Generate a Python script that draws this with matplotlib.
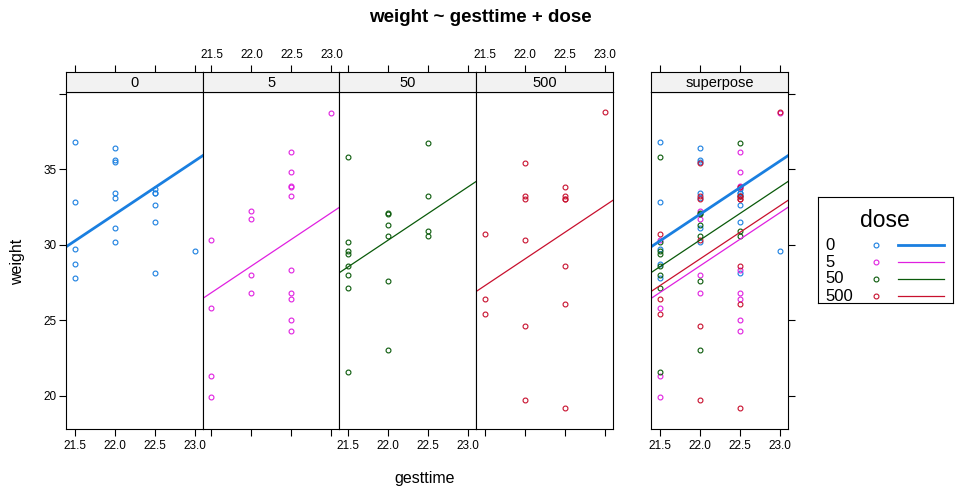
import numpy as np
import matplotlib
matplotlib.use("Agg")
import matplotlib.pyplot as plt

plt.rcParams['font.family'] = ['Liberation Sans', 'DejaVu Sans']

doses = ["0", "5", "50", "500"]
colors = ["#1a7fe0", "#e020e0", "#0a5a0a", "#c8102e"]
line_widths = [2.0, 0.9, 0.9, 0.9]

# gesttime / weight per dose group
time_0 = [21.5, 21.5, 21.5, 21.5, 21.5, 22.0, 22.0, 22.0, 22.0, 22.0, 22.0, 22.0,
          22.5, 22.5, 22.5, 22.5, 22.5, 22.5, 23.0]
weight_0 = [36.8, 32.8, 29.7, 28.7, 27.8, 36.4, 35.6, 35.5, 33.4, 33.1, 31.1, 30.2,
            33.7, 33.4, 33.4, 32.6, 31.5, 28.1, 29.6]

time_5 = [21.5, 21.5, 21.5, 21.5, 22.0, 22.0, 22.0, 22.0,
          22.5, 22.5, 22.5, 22.5, 22.5, 22.5, 22.5, 22.5, 22.5, 22.5, 23.0]
weight_5 = [30.3, 25.8, 21.3, 19.9, 32.2, 31.7, 28.0, 26.8,
            36.1, 34.8, 33.9, 33.8, 33.2, 28.3, 26.8, 26.4, 25.0, 24.3, 38.7]

time_50 = [21.5, 21.5, 21.5, 21.5, 21.5, 21.5, 21.5, 21.5,
           22.0, 22.0, 22.0, 22.0, 22.0, 22.0, 22.5, 22.5, 22.5, 22.5]
weight_50 = [35.8, 30.2, 29.6, 29.4, 28.6, 28.0, 27.1, 21.6,
             32.1, 32.0, 31.3, 30.6, 27.6, 23.0, 36.7, 33.2, 30.9, 30.6]

time_500 = [21.5, 21.5, 21.5, 22.0, 22.0, 22.0, 22.0, 22.0, 22.0,
            22.5, 22.5, 22.5, 22.5, 22.5, 22.5, 22.5, 23.0]
weight_500 = [30.7, 26.4, 25.4, 35.4, 33.2, 33.0, 30.3, 24.6, 19.7,
              33.8, 33.2, 33.0, 33.0, 28.6, 26.1, 19.2, 38.8]

times = [time_0, time_5, time_50, time_500]
weights = [weight_0, weight_5, weight_50, weight_500]

# ancova fit: weight ~ gesttime + dose (common slope, group intercepts)
X_rows, y_all = [], []
for k in range(4):
    for t, w in zip(times[k], weights[k]):
        row = [0.0] * 5
        row[k] = 1.0
        row[4] = t
        X_rows.append(row)
        y_all.append(w)
coef = np.linalg.lstsq(np.array(X_rows), np.array(y_all), rcond=None)[0]
intercepts = coef[:4]
slope = coef[4]

xticks = [21.5, 22.0, 22.5, 23.0]
xtick_labels = ["21.5", "22.0", "22.5", "23.0"]
yticks = [20, 25, 30, 35, 40]
ytick_labels = ["20", "25", "30", "35", ""]

xlim = (21.39, 23.10)
ylim = (17.8, 40.1)

W, H = 960, 500
fig = plt.figure(figsize=(9.6, 5), dpi=100)
MS = 3.5


def box(x0, y0, x1, y1):
    return [x0 / W, 1 - y1 / H, (x1 - x0) / W, (y1 - y0) / H]


def make_panel(x0, x1, label, bottom_labels, top_labels, left_axis, right_axis):
    ax = fig.add_axes(box(x0, 92, x1, 429))
    ax.set_xlim(xlim)
    ax.set_ylim(ylim)
    ax.set_xticks(xticks)
    ax.set_xticklabels(xtick_labels if bottom_labels else [""] * 4, fontsize=8.5)
    ax.tick_params(axis='x', direction='out', length=5, width=0.8, pad=3)
    ax.set_yticks(yticks)
    ax.set_yticklabels(ytick_labels, fontsize=8.5)
    ax.tick_params(axis='y', direction='out', length=5, width=0.8, pad=2,
                   left=left_axis, labelleft=left_axis,
                   right=right_axis, labelright=False)
    for s in ax.spines.values():
        s.set_linewidth(0.8)

    st = fig.add_axes(box(x0, 72, x1, 92))
    st.set_xlim(xlim)
    st.set_facecolor("#f2f2f2")
    st.set_yticks([])
    st.xaxis.tick_top()
    st.set_xticks(xticks)
    st.set_xticklabels(xtick_labels if top_labels else [""] * 4, fontsize=8.5)
    st.tick_params(axis='x', direction='out', length=5, width=0.8, pad=3)
    st.text(0.5, 0.45, label, transform=st.transAxes, ha='center', va='center',
            fontsize=10.5)
    for s in st.spines.values():
        s.set_linewidth(0.8)
    return ax


panel_edges = [66, 202.7, 339.4, 476.1, 612.8]
xs_line = np.array(xlim)
for k in range(4):
    ax = make_panel(panel_edges[k], panel_edges[k + 1], doses[k],
                    bottom_labels=(k % 2 == 0), top_labels=(k % 2 == 1),
                    left_axis=(k == 0), right_axis=False)
    ax.plot(times[k], weights[k], linestyle='none', marker='o', markersize=MS,
            markerfacecolor='none', markeredgecolor=colors[k], markeredgewidth=0.8)
    ax.plot(xs_line, intercepts[k] + slope * xs_line, color=colors[k],
            linewidth=line_widths[k])

sp = make_panel(651, 788, "superpose", bottom_labels=True, top_labels=False,
                left_axis=False, right_axis=True)
for k in range(4):
    sp.plot(times[k], weights[k], linestyle='none', marker='o', markersize=MS,
            markerfacecolor='none', markeredgecolor=colors[k], markeredgewidth=0.8)
for k in range(4):
    sp.plot(xs_line, intercepts[k] + slope * xs_line, color=colors[k],
            linewidth=line_widths[k])

fig.text(480 / W, 1 - 18 / H, "weight ~ gesttime + dose", ha='center', va='center',
         fontsize=13.5, fontweight='bold')
fig.text(425 / W, 1 - 479 / H, "gesttime", ha='center', va='center', fontsize=11.5)
fig.text(18 / W, 1 - 262 / H, "weight", ha='center', va='center', fontsize=11.5,
         rotation=90)

# legend
lg = fig.add_axes(box(818, 197, 953, 303))
lg.set_xlim(818, 953)
lg.set_ylim(303, 197)
lg.set_xticks([])
lg.set_yticks([])
for s in lg.spines.values():
    s.set_linewidth(0.8)
lg.text(885, 220, "dose", ha='center', va='center', fontsize=16.5)
entry_y = [245, 262, 278.5, 296]
for k in range(4):
    lg.text(825, entry_y[k], doses[k], ha='left', va='center', fontsize=12)
    lg.plot([876], [entry_y[k]], linestyle='none', marker='o', markersize=MS,
            markerfacecolor='none', markeredgecolor=colors[k], markeredgewidth=0.8)
    lg.plot([898, 944], [entry_y[k], entry_y[k]], color=colors[k],
            linewidth=line_widths[k])

fig.savefig("out.png", dpi=100)
